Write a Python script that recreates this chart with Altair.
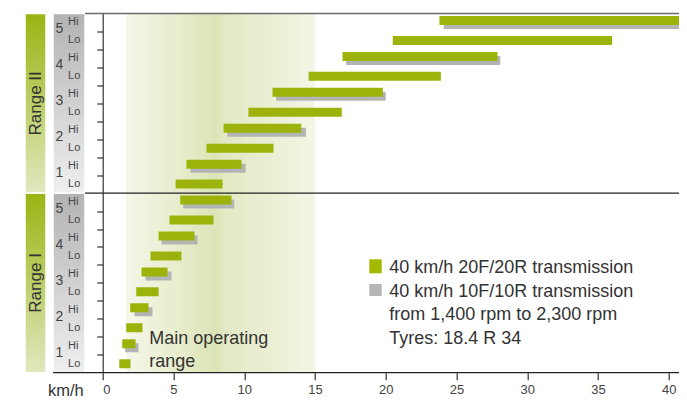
import altair as alt
import pandas as pd

# ---------------- data (km/h) ----------------
gears = [1, 2, 3, 4, 5]
# Range I
r1_lo_start = [1.17, 1.66, 2.37, 3.38, 4.72]
r1_lo_end = [1.96, 2.81, 3.95, 5.57, 7.83]
r1_hi_start = [1.38, 1.94, 2.74, 3.95, 5.48]
r1_hi_end = [2.32, 3.24, 4.58, 6.49, 9.10]
r1_gray_start = [1.59, 2.25, 3.03, 4.16, 5.69]
r1_gray_end = [2.53, 3.52, 4.86, 6.70, 9.30]
# Range II
r2_lo_start = [5.15, 7.34, 10.30, 14.55, 20.50]
r2_lo_end = [8.47, 12.07, 16.90, 23.90, 36.00]
r2_hi_start = [5.92, 8.54, 12.00, 16.95, 23.80]
r2_hi_end = [9.81, 14.03, 19.80, 27.90, 44.00]
r2_gray_start = [6.20, 8.80, 12.26, 17.20, 24.10]
r2_gray_end = [10.10, 14.36, 20.00, 28.10, 44.50]

band_start = [1.66]
band_end = [15.0]
x_ticks = [0, 5, 10, 15, 20, 25, 30, 35, 40]
range_names = ["Range I", "Range II"]
levels = ["Lo", "Hi"]
legend_text = "40 km/h 20F/20R transmission\n40 km/h 10F/10R transmission\nfrom 1,400 rpm to 2,300 rpm\nTyres: 18.4 R 34"
band_text = "Main operating\nrange"
unit_text = "km/h"

GREEN = "#9cb30c"
GRAY = "#b3b5b5"
FONT = "Liberation Sans"
W, H = 576.3, 359.2


def row(rng, gear, lvl):
    return rng * 10 + 2 * (gear - 1) + lvl


def bars(rng, lvl, starts, ends):
    return pd.DataFrame({
        "start": starts,
        "end": ends,
        "pos": [row(rng, g, lvl) + 0.5 for g in gears],
    })


green_lo = pd.concat([bars(0, 0, r1_lo_start, r1_lo_end), bars(1, 0, r2_lo_start, r2_lo_end)])
green_hi = pd.concat([bars(0, 1, r1_hi_start, r1_hi_end), bars(1, 1, r2_hi_start, r2_hi_end)])
gray = pd.concat([bars(0, 1, r1_gray_start, r1_gray_end), bars(1, 1, r2_gray_start, r2_gray_end)])

lvl_rows = []
for r in range(2):
    for g in gears:
        for li, l in enumerate(levels):
            lvl_rows.append({"label": l, "pos": row(r, g, li) + 0.5})
lvl_df = pd.DataFrame(lvl_rows)
gear_df = pd.DataFrame([{"label": str(g), "pos": row(r, g, 1)} for r in range(2) for g in gears])
range_df = pd.DataFrame({"label": range_names, "lo": [0, 10], "hi": [10, 20], "mid": [5, 15]})
band_df = pd.DataFrame({"start": band_start, "end": band_end})

xs = alt.Scale(domain=[0, W / 14.15], nice=False, zero=False, padding=0)
ys = alt.Scale(domain=[0, 20], nice=False, zero=False, padding=0)

x_axis = alt.Axis(
    values=x_ticks, title=None, domain=False, grid=False, tickSize=7, tickColor="#333",
    tickWidth=1.2, labelFont=FONT, labelFontSize=13, labelColor="#444", labelPadding=4,
    format="d")
y_axis = alt.Axis(
    values=[v for v in range(1, 20) if v != 10], title=None, labels=False, grid=False,
    tickSize=6, tickColor="#333", domainColor="#333", domainWidth=1.2, tickWidth=1.2)

band_grad = alt.Gradient(
    gradient="linear", x1=0, x2=1, y1=0, y2=0,
    stops=[
        alt.GradientStop(color="#f5f7e9", offset=0),
        alt.GradientStop(color="#e6ecca", offset=0.3),
        alt.GradientStop(color="#dbe4b5", offset=0.48),
        alt.GradientStop(color="#e2e9c4", offset=0.52),
        alt.GradientStop(color="#f3f6e5", offset=1),
    ],
)
green_grad = alt.Gradient(
    gradient="linear", x1=0, x2=0, y1=0, y2=1,
    stops=[alt.GradientStop(color="#9ab412", offset=0),
           alt.GradientStop(color="#e0e8bf", offset=1)],
)
gray_grad = alt.Gradient(
    gradient="linear", x1=0, x2=0, y1=0, y2=1,
    stops=[alt.GradientStop(color="#b3b3b3", offset=0),
           alt.GradientStop(color="#efefef", offset=1)],
)

band = alt.Chart(band_df).mark_rect(color=band_grad).encode(
    x=alt.X("start:Q", scale=xs, axis=x_axis),
    x2="end:Q",
    y=alt.datum(20, scale=ys, axis=y_axis),
    y2=alt.datum(0),
)

gray_bars = alt.Chart(gray).mark_bar(color=GRAY, size=9, yOffset=2, clip=True, orient="horizontal").encode(
    x=alt.X("start:Q", scale=xs, axis=x_axis), x2="end:Q",
    y=alt.Y("pos:Q", scale=ys, axis=y_axis))
green_hi_bars = alt.Chart(green_hi).mark_bar(color=GREEN, size=9, yOffset=-2, clip=True, orient="horizontal").encode(
    x=alt.X("start:Q", scale=xs, axis=x_axis), x2="end:Q",
    y=alt.Y("pos:Q", scale=ys, axis=y_axis))
green_lo_bars = alt.Chart(green_lo).mark_bar(color=GREEN, size=9, clip=True, orient="horizontal").encode(
    x=alt.X("start:Q", scale=xs, axis=x_axis), x2="end:Q",
    y=alt.Y("pos:Q", scale=ys, axis=y_axis))

# range boxes on the left
green_box = alt.Chart(range_df).mark_rect(color=green_grad, stroke="white", strokeWidth=1.5).encode(
    x=alt.value(-77.7), x2=alt.value(-56.7),
    y=alt.Y("hi:Q", scale=ys, axis=y_axis), y2="lo:Q")
gray_box = alt.Chart(range_df).mark_rect(color=gray_grad, stroke="white", strokeWidth=1.5).encode(
    x=alt.value(-49.7), x2=alt.value(-17.7),
    y=alt.Y("hi:Q", scale=ys, axis=y_axis), y2="lo:Q")
range_lbl = alt.Chart(range_df).mark_text(font=FONT, fontSize=17, color="#333", angle=270,
                                          align="center", baseline="middle").encode(
    x=alt.value(-67.2), y=alt.Y("mid:Q", scale=ys, axis=y_axis), text="label:N")
gear_lbl = alt.Chart(gear_df).mark_text(font=FONT, fontSize=14, color="#444", align="center",
                                        baseline="middle", dy=-2).encode(
    x=alt.value(-43.2), y=alt.Y("pos:Q", scale=ys, axis=y_axis), text="label:N")
lvl_lbl = alt.Chart(lvl_df).mark_text(font=FONT, fontSize=11, color="#444", align="left",
                                      baseline="middle").encode(
    x=alt.value(-34.6), y=alt.Y("pos:Q", scale=ys, axis=y_axis), text="label:N")

# horizontal frame lines
top_line = alt.Chart().mark_rule(color="#6a6a6a", strokeWidth=1.6).encode(
    x=alt.value(-17.7), x2=alt.value(W), y=alt.datum(20, scale=ys, axis=y_axis))
mid_line = alt.Chart().mark_rule(color="#222", strokeWidth=1.3).encode(
    x=alt.value(-17.7), x2=alt.value(W), y=alt.datum(10, scale=ys, axis=y_axis))
bot_line = alt.Chart().mark_rule(color="#222", strokeWidth=1.3).encode(
    x=alt.value(-49.7), x2=alt.value(W), y=alt.datum(0, scale=ys, axis=y_axis))

unit_lbl = alt.Chart().mark_text(text=unit_text, font=FONT, fontSize=16.5, color="#333",
                                 align="right", baseline="middle").encode(
    x=alt.value(-19), y=alt.value(H + 18.5))
band_lbl = alt.Chart().mark_text(text=band_text, lineBreak="\n", lineHeight=23, font=FONT,
                                 fontSize=18, color="#333", align="left",
                                 baseline="alphabetic").encode(
    x=alt.value(46.6), y=alt.value(330.5))

leg_green = alt.Chart().mark_rect(color="#a3b800").encode(
    x=alt.value(266.6), x2=alt.value(279), y=alt.value(245.8), y2=alt.value(259.8))
leg_gray = alt.Chart().mark_rect(color="#b5b7b7").encode(
    x=alt.value(266.6), x2=alt.value(279), y=alt.value(270.5), y2=alt.value(282.5))
leg_text = alt.Chart().mark_text(text=legend_text, lineBreak="\n", lineHeight=23.8, font=FONT,
                                 fontSize=18, color="#333", align="left",
                                 baseline="alphabetic").encode(
    x=alt.value(286.6), y=alt.value(259.3))

chart = alt.layer(
    band, green_box, gray_box, gray_bars, green_hi_bars, green_lo_bars,
    top_line, mid_line, bot_line,
    range_lbl, gear_lbl, lvl_lbl, unit_lbl, band_lbl,
    leg_green, leg_gray, leg_text,
).properties(
    width=W, height=H,
    autosize=alt.AutoSizeParams(type="none"),
    padding={"left": 94.7, "top": 5.5, "right": 0, "bottom": 27.5},
).configure_view(stroke=None)

chart.save("out.html", embed_options={"renderer": "svg", "actions": False})
